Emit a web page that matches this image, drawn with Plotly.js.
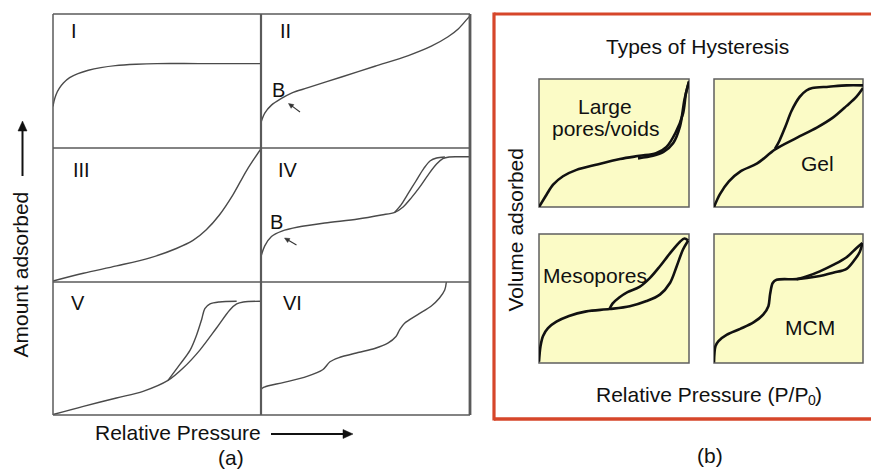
<!DOCTYPE html>
<html>
<head>
<meta charset="utf-8">
<script src="https://cdn.plot.ly/plotly-3.0.1.min.js"></script>
<style>html,body{margin:0;padding:0;background:#fff;}#chart{width:871px;height:469px;}</style>
</head>
<body>
<div id="chart"></div>
<script>
// ---------- Data (normalised relative pressure vs amount adsorbed) ----------
// (a) IUPAC isotherm types
const typeI_x = [0, 0.005, 0.015, 0.03, 0.05, 0.08, 0.12, 0.17, 0.23, 0.3, 0.4, 0.5, 0.7, 1.0];
const typeI_y = [0.31, 0.35, 0.40, 0.445, 0.485, 0.525, 0.555, 0.58, 0.60, 0.615, 0.625, 0.63, 0.63, 0.63];

const typeII_x = [0, 0.018, 0.05, 0.098, 0.146, 0.225, 0.385, 0.545, 0.705, 0.815, 0.895, 0.945, 0.985, 1.0];
const typeII_y = [0.19, 0.26, 0.32, 0.37, 0.41, 0.45, 0.53, 0.61, 0.69, 0.76, 0.83, 0.89, 0.96, 0.985];

const typeIII_x = [0, 0.146, 0.306, 0.466, 0.593, 0.673, 0.737, 0.8, 0.865, 0.93, 1.0];
const typeIII_y = [0.0075, 0.065, 0.12, 0.18, 0.25, 0.31, 0.39, 0.50, 0.65, 0.83, 0.995];

const typeIV_ads_x = [0, 0.018, 0.05, 0.1, 0.178, 0.305, 0.464, 0.576, 0.64, 0.68, 0.72, 0.76, 0.80, 0.84, 0.87, 0.90, 0.94, 1.0];
const typeIV_ads_y = [0.19, 0.27, 0.34, 0.38, 0.41, 0.44, 0.47, 0.50, 0.52, 0.56, 0.63, 0.71, 0.80, 0.88, 0.92, 0.933, 0.935, 0.935];
const typeIV_des_x = [0.64, 0.67, 0.70, 0.74, 0.78, 0.81, 0.84, 0.88];
const typeIV_des_y = [0.52, 0.575, 0.65, 0.75, 0.85, 0.905, 0.925, 0.933];

const typeV_ads_x = [0, 0.146, 0.305, 0.433, 0.553, 0.627, 0.707, 0.787, 0.85, 0.883, 0.915, 1.0];
const typeV_ads_y = [0.003, 0.065, 0.128, 0.178, 0.26, 0.355, 0.49, 0.656, 0.79, 0.835, 0.85, 0.855];
const typeV_des_x = [0.553, 0.61, 0.66, 0.69, 0.715, 0.73, 0.755, 0.8, 0.883];
const typeV_des_y = [0.26, 0.38, 0.49, 0.60, 0.72, 0.80, 0.835, 0.85, 0.855];

const typeVI_x = [0, 0, 0.016, 0.11, 0.22, 0.295, 0.33, 0.37, 0.464, 0.544, 0.607, 0.646, 0.663, 0.687, 0.75, 0.815, 0.854, 0.879, 0.887];
const typeVI_y = [0, 0.19, 0.21, 0.245, 0.29, 0.34, 0.40, 0.43, 0.47, 0.50, 0.54, 0.59, 0.64, 0.69, 0.755, 0.82, 0.88, 0.94, 1.0];

// (b) Types of hysteresis
const large_ads_x = [0, 0.05, 0.094, 0.16, 0.25, 0.38, 0.54, 0.67, 0.78, 0.85, 0.91, 0.96, 0.98, 1.0];
const large_ads_y = [0, 0.096, 0.174, 0.24, 0.29, 0.33, 0.375, 0.40, 0.42, 0.47, 0.58, 0.73, 0.89, 0.98];
const large_des_x = [0.66, 0.76, 0.83, 0.895, 0.94, 0.97, 1.0];
const large_des_y = [0.38, 0.40, 0.43, 0.50, 0.63, 0.84, 0.98];

const gel_ads_x = [0, 0.04, 0.1, 0.18, 0.29, 0.41, 0.555, 0.69, 0.8, 0.89, 0.955, 1.0];
const gel_ads_y = [0, 0.10, 0.2, 0.28, 0.34, 0.45, 0.54, 0.62, 0.70, 0.79, 0.86, 0.93];
const gel_des_x = [0.41, 0.44, 0.48, 0.52, 0.575, 0.62, 0.66, 0.77, 0.89, 1.0];
const gel_des_y = [0.455, 0.52, 0.63, 0.75, 0.86, 0.91, 0.93, 0.94, 0.95, 0.95];

const meso_ads_x = [0, 0.01, 0.027, 0.06, 0.116, 0.2, 0.316, 0.47, 0.605, 0.717, 0.806, 0.873, 0.918, 0.96, 0.995];
const meso_ads_y = [0.01, 0.13, 0.21, 0.27, 0.32, 0.365, 0.40, 0.418, 0.44, 0.48, 0.53, 0.62, 0.75, 0.88, 0.95];
const meso_des_x = [0.47, 0.49, 0.537, 0.59, 0.67, 0.74, 0.806, 0.873, 0.94, 0.97, 0.995];
const meso_des_y = [0.418, 0.46, 0.51, 0.55, 0.59, 0.66, 0.75, 0.85, 0.94, 0.965, 0.95];

const mcm_ads_x = [0, 0.01, 0.03, 0.087, 0.176, 0.265, 0.33, 0.365, 0.376, 0.394, 0.42, 0.555, 0.69, 0.8, 0.89, 0.944, 0.978, 0.996];
const mcm_ads_y = [0.005, 0.13, 0.17, 0.22, 0.265, 0.315, 0.375, 0.44, 0.53, 0.62, 0.645, 0.65, 0.67, 0.70, 0.73, 0.80, 0.86, 0.93];
const mcm_des_x = [0.555, 0.62, 0.71, 0.8, 0.89, 0.955, 0.996];
const mcm_des_y = [0.65, 0.67, 0.71, 0.76, 0.82, 0.89, 0.93];

// Text
const romanLabels = ["I", "II", "III", "IV", "V", "VI"];
const panelLabels = ["Gel", "Mesopores", "MCM"];

// ---------- Layout helpers (pixel -> paper) ----------
const W = 871, H = 469;
const px = v => v / W;
const py = v => 1 - v / H;

// subplot boxes in pixels [x0, x1, y0(top), y1(bottom)]
const boxes = [
  [53, 261, 14, 148], [261, 470, 14, 148],
  [53, 261, 148, 282], [261, 470, 148, 282],
  [53, 261, 282, 415], [261, 470, 282, 415],
  [539, 689, 79, 207], [714, 863, 79, 207],
  [539, 689, 234, 363], [714, 863, 234, 363]
];

const layout = {
  width: W, height: H,
  margin: {l: 0, r: 0, t: 0, b: 0},
  paper_bgcolor: '#ffffff', plot_bgcolor: 'rgba(0,0,0,0)',
  showlegend: false,
  font: {family: '"Liberation Sans", Arial, sans-serif', color: '#111'},
  shapes: [], annotations: []
};
boxes.forEach((b, i) => {
  const n = i === 0 ? '' : String(i + 1);
  layout['xaxis' + n] = {domain: [px(b[0]), px(b[1])], range: [0, 1], visible: false, fixedrange: true, anchor: 'y' + n};
  layout['yaxis' + n] = {domain: [py(b[3]), py(b[2])], range: [0, 1], visible: false, fixedrange: true, anchor: 'x' + n};
});

const grey = '#5a5a5a';
const lineShape = (x0, y0, x1, y1, color, width) => ({type: 'line', xref: 'paper', yref: 'paper', x0: px(x0), y0: py(y0), x1: px(x1), y1: py(y1), line: {color, width}, layer: 'above'});

// (a) grid
layout.shapes.push(lineShape(53, 14, 470, 14, grey, 1.5));
layout.shapes.push(lineShape(53, 415, 470, 415, grey, 1.5));
layout.shapes.push(lineShape(53, 14, 53, 415, grey, 1.5));
layout.shapes.push(lineShape(470, 14, 470, 415, grey, 2.8));
layout.shapes.push(lineShape(261, 14, 261, 415, grey, 2.2));
layout.shapes.push(lineShape(53, 148, 470, 148, grey, 1.5));
layout.shapes.push(lineShape(53, 282, 470, 282, grey, 1.5));

// (b) red frame
const red = '#d6462a';
layout.shapes.push(lineShape(494, 14, 880, 14, red, 3.2));
layout.shapes.push(lineShape(494, 12.4, 494, 420.6, red, 3.2));
layout.shapes.push(lineShape(494, 419, 880, 419, red, 3.6));

// (b) yellow panels
boxes.slice(6).forEach(b => {
  layout.shapes.push({type: 'rect', xref: 'paper', yref: 'paper', x0: px(b[0]), x1: px(b[1]), y0: py(b[3]), y1: py(b[2]),
    fillcolor: '#fbfbc6', line: {color: '#5f5f5f', width: 1.5}, layer: 'below'});
});

// arrows drawn as a shaft plus a filled triangular head
const arrowShapes = (tx, ty, hx, hy, w, headLen, headHalf, color) => {
  const dx = hx - tx, dy = hy - ty, L = Math.hypot(dx, dy);
  const ux = dx / L, uy = dy / L;
  const bx = hx - ux * headLen, by = hy - uy * headLen;
  const nx = -uy * headHalf, ny = ux * headHalf;
  layout.shapes.push(lineShape(tx, ty, bx + ux * 0.5, by + uy * 0.5, color, w));
  layout.shapes.push({type: 'path', xref: 'paper', yref: 'paper', layer: 'above',
    path: `M ${px(hx)} ${py(hy)} L ${px(bx + nx)} ${py(by + ny)} L ${px(bx - nx)} ${py(by - ny)} Z`,
    fillcolor: color, line: {color, width: 0.5}});
};
arrowShapes(22.5, 176, 22.5, 121, 2, 10, 4.5, '#111');
arrowShapes(271, 434, 353, 434, 2, 10, 4.5, '#111');
arrowShapes(300, 112, 288.5, 103.5, 1.1, 5, 2.3, '#333');
arrowShapes(296.5, 245, 284.5, 238, 1.1, 5, 2.3, '#333');

// ---------- Annotations ----------
const txt = (x, y, text, size, extra) => Object.assign({xref: 'paper', yref: 'paper', x: px(x), y: py(y), text, showarrow: false,
  xanchor: 'center', yanchor: 'middle', font: {size, color: '#111'}}, extra || {});
const romanPos = [[74, 31], [285, 31], [81, 170], [288, 170], [78, 303], [292, 303]];
romanLabels.forEach((t, i) => layout.annotations.push(txt(romanPos[i][0], romanPos[i][1], t, 20)));

layout.annotations.push(txt(278, 90, 'B', 20));
layout.annotations.push(txt(276, 222, 'B', 20));

layout.annotations.push(txt(19.5, 275, 'Amount adsorbed', 21, {textangle: -90}));
layout.annotations.push(txt(178, 432, 'Relative Pressure', 21));
layout.annotations.push(txt(231, 457, '(a)', 21));

layout.annotations.push(txt(697, 47, 'Types of Hysteresis', 21));
layout.annotations.push(txt(515.5, 230, 'Volume adsorbed', 21, {textangle: -90}));
// x-axis label of (b), subscript 0 placed as its own small text
layout.annotations.push(txt(594, 394, 'Relative Pressure (P/P', 21, {xanchor: 'left'}));
layout.annotations.push(txt(806, 400, '0', 14, {xanchor: 'left'}));
layout.annotations.push(txt(813, 394, ')', 21, {xanchor: 'left'}));
layout.annotations.push(txt(709.5, 455, '(b)', 21));
layout.annotations.push(txt(605, 107, 'Large', 21));
layout.annotations.push(txt(605, 128, 'pores/voids', 21));
layout.annotations.push(txt(817, 163, panelLabels[0], 21));
layout.annotations.push(txt(595, 275, panelLabels[1], 21));
layout.annotations.push(txt(810, 327, panelLabels[2], 21));

// ---------- Traces ----------
const traces = [];
const addLine = (x, y, idx, color, width) => {
  const n = idx === 1 ? '' : String(idx);
  traces.push({x, y, xaxis: 'x' + n, yaxis: 'y' + n, mode: 'lines', hoverinfo: 'skip',
    line: {shape: 'spline', smoothing: 0.9, color, width}});
};
const lc = '#4a4a4a';
addLine(typeI_x, typeI_y, 1, lc, 1.4);
addLine(typeII_x, typeII_y, 2, lc, 1.4);
addLine(typeIII_x, typeIII_y, 3, lc, 1.4);
addLine(typeIV_ads_x, typeIV_ads_y, 4, lc, 1.4);
addLine(typeIV_des_x, typeIV_des_y, 4, lc, 1.4);
addLine(typeV_ads_x, typeV_ads_y, 5, lc, 1.4);
addLine(typeV_des_x, typeV_des_y, 5, lc, 1.4);
addLine(typeVI_x, typeVI_y, 6, lc, 1.4);
const bc = '#111111';
addLine(large_ads_x, large_ads_y, 7, bc, 2.6);
addLine(large_des_x, large_des_y, 7, bc, 2.6);
addLine(gel_ads_x, gel_ads_y, 8, bc, 2.6);
addLine(gel_des_x, gel_des_y, 8, bc, 2.6);
addLine(meso_ads_x, meso_ads_y, 9, bc, 2.6);
addLine(meso_des_x, meso_des_y, 9, bc, 2.6);
addLine(mcm_ads_x, mcm_ads_y, 10, bc, 2.6);
addLine(mcm_des_x, mcm_des_y, 10, bc, 2.6);

Plotly.newPlot('chart', traces, layout, {staticPlot: true, displayModeBar: false});
</script>
</body>
</html>
